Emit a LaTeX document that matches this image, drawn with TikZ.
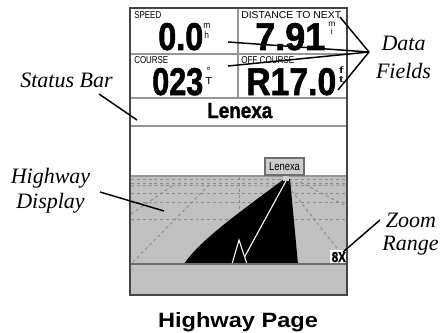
\documentclass[tikz,border=0pt]{standalone}
\usepackage{fontspec}
\usepackage{graphicx}
\setmainfont{Liberation Serif}
\newfontfamily\sansf{Liberation Sans}
\newfontfamily\numf[FakeBold=1.6]{Liberation Sans Bold}
\newlength\px \setlength\px{0.75pt}
\newcommand\fitbox[3]{\resizebox{#1\px}{#2\px}{#3}}
\definecolor{scrgray}{RGB}{192,192,192}
\definecolor{framec}{RGB}{70,70,70}
\definecolor{cellc}{RGB}{150,150,150}
\definecolor{gridc}{RGB}{140,140,140}
\definecolor{groundc}{RGB}{110,110,110}
\definecolor{tagc}{RGB}{205,205,205}
\begin{document}
\begin{tikzpicture}[x=0.75pt,y=-0.75pt,
  lbl/.style={font=\fontsize{16.5}{18}\selectfont\itshape, inner sep=0, anchor=base},
  scr/.style={inner sep=0, anchor=base west, font=\sansf},
  callout/.style={draw=black, line width=1.1pt},
  griddash/.style={draw=gridc, line width=0.7pt, dash pattern=on 2.2pt off 2.2pt},
  celline/.style={draw=cellc, line width=1.4pt}]
\useasboundingbox[fill=white] (0,0) rectangle (442,332);
% screen background
\fill[white] (130,8) rectangle (347,295);
\fill[scrgray] (131,176) rectangle (346,294);
\draw[draw=cellc, line width=0.8pt] (131,176) -- (346,176);
% perspective grid
\begin{scope}
\clip (131,177) rectangle (346,263);
\draw[griddash] (131,179) -- (346,179);
\draw[griddash] (131,183) -- (346,183);
\draw[griddash] (131,186) .. controls (180,184) and (220,187) .. (346,185);
\draw[griddash] (131,193) -- (346,193);
\draw[griddash] (131,202) -- (346,202);
\draw[griddash] (131,219) -- (346,219);
\draw[griddash] (239,177) -- (239,219);
\draw[griddash] (133,262) -- (210,184);
\draw[griddash] (131,214) -- (175,184);
\draw[griddash] (288,186) -- (340,252);
\draw[griddash] (300,182) -- (346,206);
\end{scope}
% road
\fill[black] (184,264) .. controls (200,240) and (240,212) .. (284,179) -- (290,179) -- (298,264) -- cycle;
\draw[white, line width=0.8pt] (286,181) -- (244.5,257);
\filldraw[fill=black, draw=white, line width=0.8pt] (239,240) -- (232,264) -- (247,264) -- cycle;
\draw[draw=groundc, line width=0.9pt] (131,264) -- (346,264);
% destination tag
\fill[tagc] (283,175) rectangle (289,181);
\node[draw=groundc, fill=tagc, line width=0.8pt, minimum width=39\px, minimum height=17\px, inner sep=0] (tag) at (284.5,166.5) {\fitbox{31}{8}{\sansf Lenexa}};
% zoom box
\node[fill=white, minimum width=17\px, minimum height=13\px, inner sep=0] (zbox) at (338.5,256.5) {};
\node[scr] (zoomtxt) at (331.5,262) {\fitbox{14}{10}{\numf 8X}};
% cell lines
\draw[celline] (131,54) -- (346,54);
\draw[celline] (131,98) -- (346,98);
\draw[celline] (131,126) -- (346,126);
\draw[celline] (238,8) -- (238,98);
% frame
\draw[draw=framec, line width=1.4pt] (130,8) rectangle (347,295);
% data fields text
\node[scr] (spdl) at (134,18.5) {\fitbox{27}{7}{SPEED}};
\node[scr] (spd) at (158,50) {\fitbox{45}{27}{\numf 0.0}};
\node[scr] (spdu) at (203,38) {\fitbox{7}{15}{\shortstack{m\\h}}};
\node[scr] (dstl) at (241,18.5) {\fitbox{100}{7}{DISTANCE TO NEXT}};
\node[scr] (dst) at (255,50) {\fitbox{70}{27}{\numf 7.91}};
\node[scr] (dstu) at (328,35) {\fitbox{7}{13}{\shortstack{m\\i}}};
\node[scr] (crsl) at (134,63) {\fitbox{34}{7}{COURSE}};
\node[scr] (crs) at (152,95) {\fitbox{51}{27}{\numf 023}};
\node[scr] (crsu) at (205,84.5) {\fitbox{7}{17}{\shortstack{°\\T}}};
\node[scr] (offl) at (241,63) {\fitbox{53}{7}{OFF COURSE}};
\node[scr] (off) at (246,95) {\fitbox{90}{27}{\numf R17.0}};
\node[scr] (offu) at (338.5,82.5) {\fitbox{5}{15.5}{\shortstack{f\\t}}};
\node[scr] (stat) at (207,118) {\fitbox{65}{15}{\numf Lenexa}};
% caption
\node[inner sep=0, anchor=base, font=\sansf\bfseries] (cap) at (238,327) {\fitbox{160}{15}{Highway Page}};
% callout labels
\node[lbl] (sb) at (66.5,87) {Status Bar};
\node[lbl] (hw1) at (50.5,183) {Highway};
\node[lbl] (hw2) at (50.5,208) {Display};
\node[lbl] (df1) at (403.5,50) {Data};
\node[lbl] (df2) at (403.5,78) {Fields};
\node[lbl] (zr1) at (411,227) {Zoom};
\node[lbl] (zr2) at (410.5,250) {Range};
% callout lines
\coordinate (sbA) at (99,94);
\coordinate (sbB) at (137,120);
\coordinate (hwA) at (100,192);
\coordinate (hwB) at (164,211);
\coordinate (dfA) at (369,52);
\coordinate (dfB1) at (340,17);
\coordinate (dfB2) at (228,42);
\coordinate (dfB3) at (228,66);
\coordinate (dfB4) at (338,90);
\coordinate (zrA) at (380,220);
\coordinate (zrB) at (343,252);
\draw[callout] (sbA) -- (sbB);
\draw[callout] (hwA) -- (hwB);
\draw[callout] (dfA) -- (dfB1);
\draw[callout] (dfA) -- (dfB2);
\draw[callout] (dfA) -- (dfB3);
\draw[callout] (dfA) -- (dfB4);
\draw[callout] (zrA) -- (zrB);
\end{tikzpicture}
\end{document}
